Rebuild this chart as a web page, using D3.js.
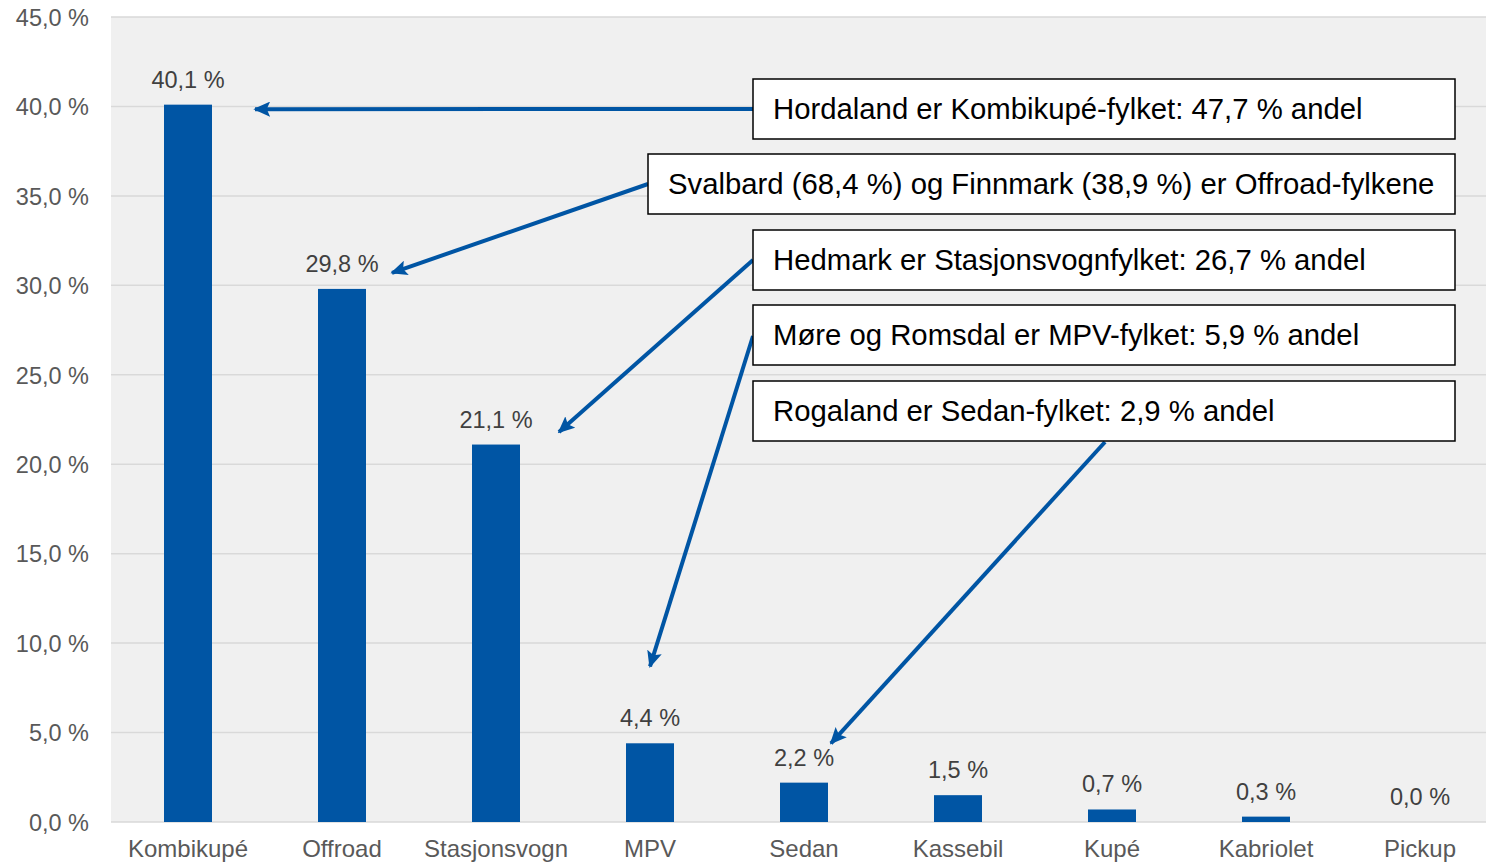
<!DOCTYPE html>
<html>
<head>
<meta charset="utf-8">
<script src="https://cdn.jsdelivr.net/npm/d3@7"></script>
<style>
  body { margin: 0; background: #fff; }
  svg text { font-family: "Liberation Sans", Arial, sans-serif; }
</style>
</head>
<body>
<div id="plot"></div>
<script>
// data
var categories = ["Kombikupé", "Offroad", "Stasjonsvogn", "MPV", "Sedan", "Kassebil", "Kupé", "Kabriolet", "Pickup"];
var shares = [40.1, 29.8, 21.1, 4.4, 2.2, 1.5, 0.7, 0.3, 0.0];
var yTicks = [0, 5, 10, 15, 20, 25, 30, 35, 40, 45];

// annotations: text, and which bar the arrow points at (value = arrow tip height)
var noteTexts = [
  "Hordaland er Kombikupé-fylket: 47,7 % andel",
  "Svalbard (68,4 %) og Finnmark (38,9 %) er Offroad-fylkene",
  "Hedmark er Stasjonsvognfylket: 26,7 % andel",
  "Møre og Romsdal er MPV-fylket: 5,9 % andel",
  "Rogaland er Sedan-fylket: 2,9 % andel"
];
var noteTargets = ["Kombikupé", "Offroad", "Stasjonsvogn", "MPV", "Sedan"];
var noteTipValues = [39.85, 30.7, 21.8, 8.7, 4.4];

var W = 1486, H = 863;
var padL = 111, padR = 1497, padT = 17, padB = 822;

var svg = d3.select("#plot").append("svg")
  .attr("width", W).attr("height", H);

var x = d3.scaleBand().domain(categories).range([padL, padR]).paddingInner(0).paddingOuter(0);
var y = d3.scaleLinear().domain([0, 45]).range([padB, padT]);
var fmt = function(v) { return d3.format(".1f")(v).replace(".", ",") + " %"; };

svg.append("rect")
  .attr("x", padL).attr("y", padT)
  .attr("width", W - padL).attr("height", padB - padT)
  .attr("fill", "#f0f0f0");

// grid
svg.append("g").selectAll("line")
  .data(yTicks).enter().append("line")
  .attr("x1", padL).attr("x2", W)
  .attr("y1", function(d) { return y(d); })
  .attr("y2", function(d) { return y(d); })
  .attr("stroke", "#d9d9d9").attr("stroke-width", 1.5);

var yAxis = d3.axisLeft(y).tickValues(yTicks).tickFormat(fmt).tickSize(0).tickPadding(22);
var gy = svg.append("g").attr("transform", "translate(" + padL + ",0)").call(yAxis);
gy.select(".domain").remove();
gy.selectAll("text").attr("font-size", 23.5).attr("font-family", "Liberation Sans, Arial, sans-serif")
  .attr("fill", "#595959").attr("dy", "0.35em");

var xAxis = d3.axisBottom(x).tickSize(0).tickPadding(21);
var gx = svg.append("g").attr("transform", "translate(0," + padB + ")").call(xAxis);
gx.select(".domain").remove();
gx.selectAll("text").attr("font-size", 24).attr("font-family", "Liberation Sans, Arial, sans-serif")
  .attr("fill", "#595959").attr("dy", "0.6em");

var barW = 48;
svg.append("g").selectAll("rect")
  .data(shares).enter().append("rect")
  .attr("x", function(d, i) { return x(categories[i]) + x.bandwidth() / 2 - barW / 2; })
  .attr("y", function(d) { return y(d); })
  .attr("width", barW)
  .attr("height", function(d) { return padB - y(d); })
  .attr("fill", "#0055a4");

svg.append("g").selectAll("text")
  .data(shares).enter().append("text")
  .attr("x", function(d, i) { return x(categories[i]) + x.bandwidth() / 2; })
  .attr("y", function(d) { return y(d) - 17; })
  .attr("text-anchor", "middle")
  .attr("font-size", 23.5).attr("fill", "#404040")
  .text(fmt);

// arrowhead
svg.append("defs").append("marker")
  .attr("id", "head")
  .attr("viewBox", "0 0 10 9")
  .attr("refX", 9).attr("refY", 4.5)
  .attr("markerWidth", 4.2).attr("markerHeight", 3.8)
  .attr("orient", "auto")
  .append("path")
  .attr("d", "M0,0 L10,4.5 L0,9 L2,4.5 Z")
  .attr("fill", "#0055a4");

// boxes
var boxX = [753, 648, 753, 753, 753];
var boxY = [79, 154, 230, 305, 381];
var boxR = 1455, boxH = 60;
var tipDx = [67, 50, 63, 0, 27];
var startX = [753, 648, 753, 753, 1105];
var startY = [109, 184, 260, 336, 442];

var notes = svg.append("g");
noteTexts.forEach(function(t, i) {
  var c = noteTargets[i];
  notes.append("line")
    .attr("x1", startX[i]).attr("y1", startY[i])
    .attr("x2", x(c) + x.bandwidth() / 2 + tipDx[i])
    .attr("y2", y(noteTipValues[i]))
    .attr("stroke", "#0055a4").attr("stroke-width", 4)
    .attr("marker-end", "url(#head)");
});
noteTexts.forEach(function(t, i) {
  notes.append("rect")
    .attr("x", boxX[i]).attr("y", boxY[i])
    .attr("width", boxR - boxX[i]).attr("height", boxH)
    .attr("fill", "#fff").attr("stroke", "#000").attr("stroke-width", 1.5);
  notes.append("text")
    .attr("x", boxX[i] + 20).attr("y", boxY[i] + boxH / 2)
    .attr("dy", "0.35em")
    .attr("font-size", 29.3).attr("fill", "#000")
    .text(t);
});
</script>
</body>
</html>
